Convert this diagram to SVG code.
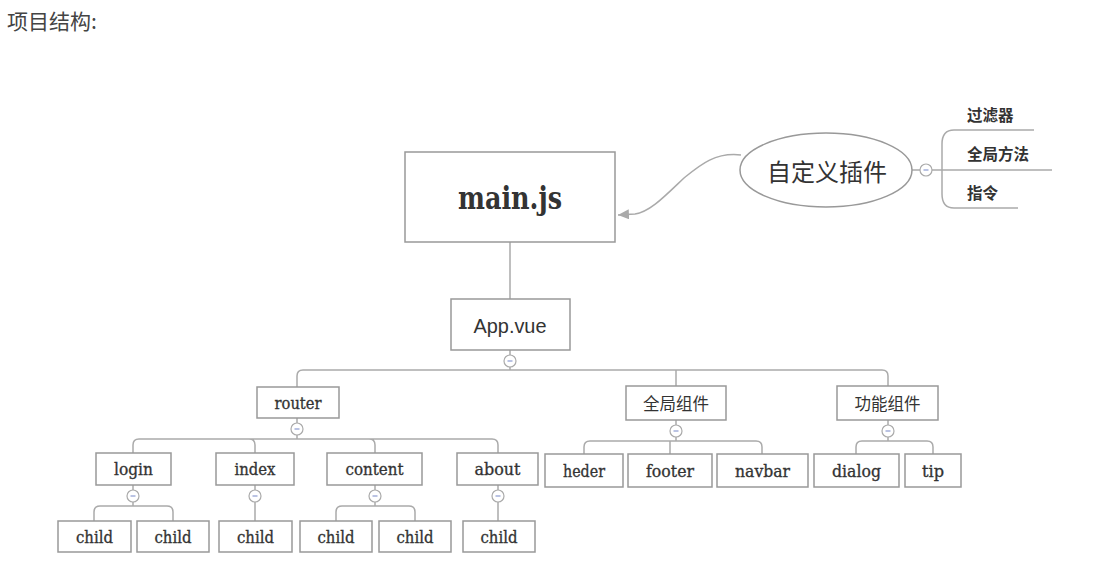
<svg xmlns="http://www.w3.org/2000/svg" width="1116" height="564" viewBox="0 0 1116 564">
<style>
.box{fill:#fff;stroke:#999;stroke-width:1.5}
.ln{fill:none;stroke:#aaa;stroke-width:1.5}
.tc{fill:#fff;stroke:#aaa;stroke-width:1.2}
.mn{stroke:#8d9cd0;stroke-width:1.2}
.sl{font-family:"DejaVu Serif","Liberation Serif",serif;font-size:17.5px;fill:#333;stroke:#333;stroke-width:0.35;text-anchor:middle;dominant-baseline:central}
.cj{font-family:"Noto Sans CJK SC","Noto Sans",sans-serif;font-size:16.5px;fill:#333;text-anchor:middle;dominant-baseline:central}
.big{font-size:24px}
.rl{font-family:"Noto Sans CJK SC","Noto Sans",sans-serif;font-size:15.5px;font-weight:bold;fill:#333;dominant-baseline:central}
</style>
<defs>
<marker id="arr" markerUnits="userSpaceOnUse" markerWidth="12" markerHeight="12" refX="11" refY="5" orient="auto">
<path d="M0 0 L11 5 L0 10 Z" fill="#aaa"/>
</marker>
</defs>
<text x="7" y="29" font-family="Noto Sans CJK SC, sans-serif" font-size="21" fill="#444">项目结构:</text>

<g id="connectors">
<path class="ln" d="M741 155 C715 152 700 165 684 178 C665 196 650 212 635 214 L618 215" marker-end="url(#arr)"/>
<path class="ln" d="M912 170 H920 M932 170 H1052"/>
<path class="ln" d="M1034 130 H954 Q942 130 942 144 V194 Q942 208 954 208 H1018"/>
<path class="ln" d="M510 242 V299 M510 350 V355 M510 367 V370"/>
<path class="ln" d="M297 387 V376 Q297 370 303 370 H882 Q888 370 888 376 V386 M676 370 V386"/>
<path class="ln" d="M297 418 V423 M297 435 V439 M133 453 V445 Q133 439 139 439 H492 Q498 439 498 445 V453 M249 439 Q255 439 255 445 V453 M369 439 Q375 439 375 445 V453"/>
<path class="ln" d="M133 485 V490 M133 502 V506 M94 521 V512 Q94 506 100 506 H167 Q173 506 173 512 V521"/>
<path class="ln" d="M255 485 V490 M255 502 V521"/>
<path class="ln" d="M375 485 V490 M375 502 V506 M336 521 V512 Q336 506 342 506 H409 Q415 506 415 512 V521"/>
<path class="ln" d="M498 485 V490 M498 502 V521"/>
<path class="ln" d="M676 420 V425 M676 437 V441 M584 454 V447 Q584 441 590 441 H756 Q762 441 762 447 V454 M670 441 V454"/>
<path class="ln" d="M888 420 V425 M888 437 V441 M856 454 V447 Q856 441 862 441 H927 Q933 441 933 447 V454"/>
</g>

<g id="toggles">
<g><circle class="tc" cx="926" cy="170" r="6"/><line class="mn" x1="923.5" y1="170" x2="928.5" y2="170"/></g>
<g><circle class="tc" cx="510" cy="361" r="6"/><line class="mn" x1="507.5" y1="361" x2="512.5" y2="361"/></g>
<g><circle class="tc" cx="297" cy="429" r="6"/><line class="mn" x1="294.5" y1="429" x2="299.5" y2="429"/></g>
<g><circle class="tc" cx="676" cy="431" r="6"/><line class="mn" x1="673.5" y1="431" x2="678.5" y2="431"/></g>
<g><circle class="tc" cx="888" cy="431" r="6"/><line class="mn" x1="885.5" y1="431" x2="890.5" y2="431"/></g>
<g><circle class="tc" cx="133" cy="496" r="6"/><line class="mn" x1="130.5" y1="496" x2="135.5" y2="496"/></g>
<g><circle class="tc" cx="255" cy="496" r="6"/><line class="mn" x1="252.5" y1="496" x2="257.5" y2="496"/></g>
<g><circle class="tc" cx="375" cy="496" r="6"/><line class="mn" x1="372.5" y1="496" x2="377.5" y2="496"/></g>
<g><circle class="tc" cx="498" cy="496" r="6"/><line class="mn" x1="495.5" y1="496" x2="500.5" y2="496"/></g>
</g>

<g id="main-js"><rect class="box" x="405" y="152" width="210" height="90"/>
<text x="510" y="198" font-family="DejaVu Serif, serif" font-weight="bold" font-size="32" fill="#333" text-anchor="middle" dominant-baseline="central" textLength="104" lengthAdjust="spacingAndGlyphs">main.js</text></g>

<g id="plugin"><ellipse cx="826" cy="170" rx="86" ry="37" fill="#fff" stroke="#999" stroke-width="1.5"/>
<text class="cj big" x="827" y="170">自定义插件</text></g>
<g id="filter"><text class="rl" x="967" y="114">过滤器</text></g>
<g id="global-method"><text class="rl" x="967" y="153">全局方法</text></g>
<g id="directive"><text class="rl" x="967" y="192">指令</text></g>

<g id="app-vue"><rect class="box" x="451" y="299" width="119" height="51"/>
<text x="510" y="325" font-family="Liberation Sans, Arial, sans-serif" font-size="21" fill="#333" text-anchor="middle" dominant-baseline="central" textLength="73" lengthAdjust="spacingAndGlyphs">App.vue</text></g>

<g id="router"><rect class="box" x="257" y="387" width="82" height="31"/><text class="sl" x="298" y="402.5" textLength="47" lengthAdjust="spacingAndGlyphs">router</text></g>
<g id="global-comp"><rect class="box" x="626" y="386" width="100" height="34"/><text class="cj" x="676" y="403">全局组件</text></g>
<g id="func-comp"><rect class="box" x="837" y="386" width="101" height="34"/><text class="cj" x="887.5" y="403">功能组件</text></g>

<g id="login"><rect class="box" x="96" y="453" width="75" height="32"/><text class="sl" x="133.5" y="469" textLength="39" lengthAdjust="spacingAndGlyphs">login</text></g>
<g id="index"><rect class="box" x="216" y="453" width="78" height="32"/><text class="sl" x="255" y="469" textLength="41" lengthAdjust="spacingAndGlyphs">index</text></g>
<g id="content"><rect class="box" x="327" y="453" width="95" height="32"/><text class="sl" x="374.5" y="469" textLength="58" lengthAdjust="spacingAndGlyphs">content</text></g>
<g id="about"><rect class="box" x="457" y="453" width="81" height="32"/><text class="sl" x="497.5" y="469" textLength="46" lengthAdjust="spacingAndGlyphs">about</text></g>

<g id="heder"><rect class="box" x="545" y="454" width="78" height="33"/><text class="sl" x="584" y="470.5" textLength="42" lengthAdjust="spacingAndGlyphs">heder</text></g>
<g id="footer"><rect class="box" x="628" y="454" width="84" height="33"/><text class="sl" x="670" y="470.5" textLength="48" lengthAdjust="spacingAndGlyphs">footer</text></g>
<g id="navbar"><rect class="box" x="717" y="454" width="91" height="33"/><text class="sl" x="762.5" y="470.5" textLength="55" lengthAdjust="spacingAndGlyphs">navbar</text></g>
<g id="dialog"><rect class="box" x="814" y="454" width="85" height="33"/><text class="sl" x="856.5" y="470.5" textLength="49" lengthAdjust="spacingAndGlyphs">dialog</text></g>
<g id="tip"><rect class="box" x="905" y="454" width="56" height="33"/><text class="sl" x="933" y="470.5" textLength="22" lengthAdjust="spacingAndGlyphs">tip</text></g>

<g id="login-child1"><rect class="box" x="58" y="521" width="73" height="31"/><text class="sl" x="94.5" y="536.5" textLength="37" lengthAdjust="spacingAndGlyphs">child</text></g>
<g id="login-child2"><rect class="box" x="137" y="521" width="72" height="31"/><text class="sl" x="173" y="536.5" textLength="37" lengthAdjust="spacingAndGlyphs">child</text></g>
<g id="index-child"><rect class="box" x="219" y="521" width="73" height="31"/><text class="sl" x="255.5" y="536.5" textLength="37" lengthAdjust="spacingAndGlyphs">child</text></g>
<g id="content-child1"><rect class="box" x="300" y="521" width="72" height="31"/><text class="sl" x="336" y="536.5" textLength="37" lengthAdjust="spacingAndGlyphs">child</text></g>
<g id="content-child2"><rect class="box" x="379" y="521" width="72" height="31"/><text class="sl" x="415" y="536.5" textLength="37" lengthAdjust="spacingAndGlyphs">child</text></g>
<g id="about-child"><rect class="box" x="463" y="521" width="72" height="31"/><text class="sl" x="499" y="536.5" textLength="37" lengthAdjust="spacingAndGlyphs">child</text></g>
</svg>
